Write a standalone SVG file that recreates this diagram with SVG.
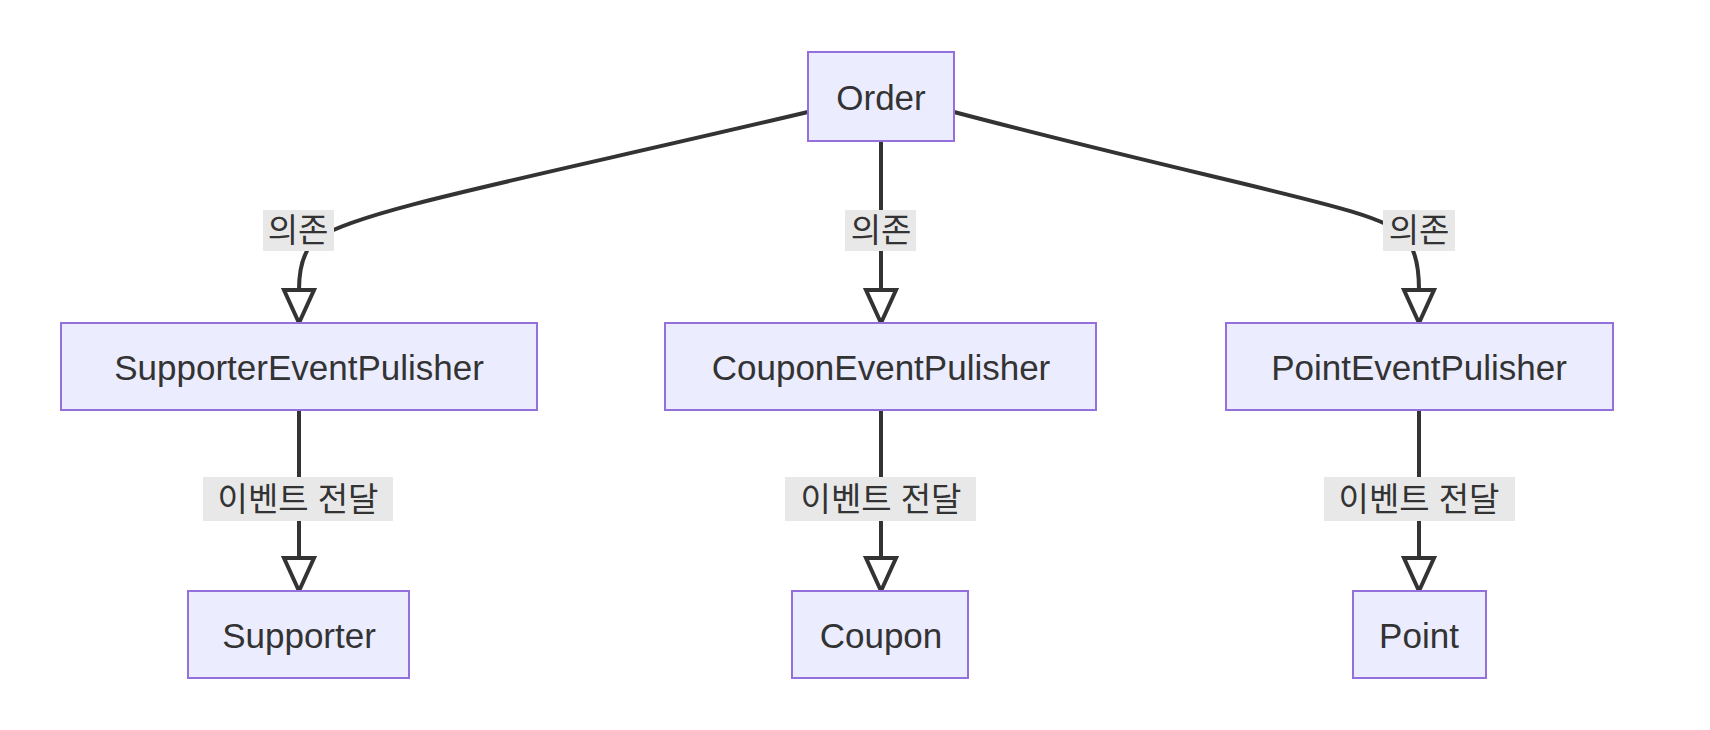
<svg xmlns="http://www.w3.org/2000/svg" width="1710" height="730" viewBox="0 0 1710 730">
<defs>
<style>
.n rect{fill:#ECECFF;stroke:#9370DB;stroke-width:2}
.n text{font-family:"Liberation Sans","Noto Sans CJK KR",sans-serif;font-size:35px;fill:#333;text-anchor:middle;dominant-baseline:central}
.e path{fill:none;stroke:#333;stroke-width:4}
.l rect{fill:#e8e8e8}
.l text{font-family:"Liberation Sans","Noto Sans CJK KR",sans-serif;font-size:33px;fill:#333;text-anchor:middle;dominant-baseline:central}
</style>
<marker id="a" viewBox="0 0 10 10" refX="10" refY="5" markerWidth="8" markerHeight="8" markerUnits="userSpaceOnUse" orient="auto"><path d="M0,0L10,5L0,10z" fill="#333"/></marker>
</defs>
<rect width="1710" height="730" fill="#fff"/>
<g class="e">
<path d="M808,112 C520,180 360,210 318,238 Q299,252 299,290"/>
<path d="M881,141 V290"/>
<path d="M954,112 C1250,190 1390,210 1405,238 Q1419,252 1419,290"/>
<path d="M299,410 V560"/>
<path d="M881,410 V560"/>
<path d="M1419,410 V560"/>
<g fill="#333">
<path d="M284,290 L314,290 L299,323z"/>
<path d="M866,290 L896,290 L881,323z"/>
<path d="M1404,290 L1434,290 L1419,323z"/>
<path d="M284,558 L314,558 L299,591z"/>
<path d="M866,558 L896,558 L881,591z"/>
<path d="M1404,558 L1434,558 L1419,591z"/>
</g>
</g>
<g class="l">
<rect x="263" y="210" width="71" height="41"/><text x="298" y="230">의존</text>
<rect x="845" y="210" width="71" height="41"/><text x="881" y="230">의존</text>
<rect x="1383" y="210" width="72" height="41"/><text x="1419" y="230">의존</text>
<rect x="203" y="477" width="190" height="44"/><text x="298" y="499">이벤트 전달</text>
<rect x="785" y="477" width="191" height="44"/><text x="881" y="499">이벤트 전달</text>
<rect x="1324" y="477" width="191" height="44"/><text x="1419" y="499">이벤트 전달</text>
</g>
<g id="order" class="n"><rect x="808" y="52" width="146" height="89"/><text x="881" y="97">Order</text></g>
<g id="sep" class="n"><rect x="61" y="323" width="476" height="87"/><text x="299" y="367">SupporterEventPulisher</text></g>
<g id="cep" class="n"><rect x="665" y="323" width="431" height="87"/><text x="881" y="367">CouponEventPulisher</text></g>
<g id="pep" class="n"><rect x="1226" y="323" width="387" height="87"/><text x="1419" y="367">PointEventPulisher</text></g>
<g id="supporter" class="n"><rect x="188" y="591" width="221" height="87"/><text x="299" y="635">Supporter</text></g>
<g id="coupon" class="n"><rect x="792" y="591" width="176" height="87"/><text x="881" y="635">Coupon</text></g>
<g id="point" class="n"><rect x="1353" y="591" width="133" height="87"/><text x="1419" y="635">Point</text></g>
</svg>
